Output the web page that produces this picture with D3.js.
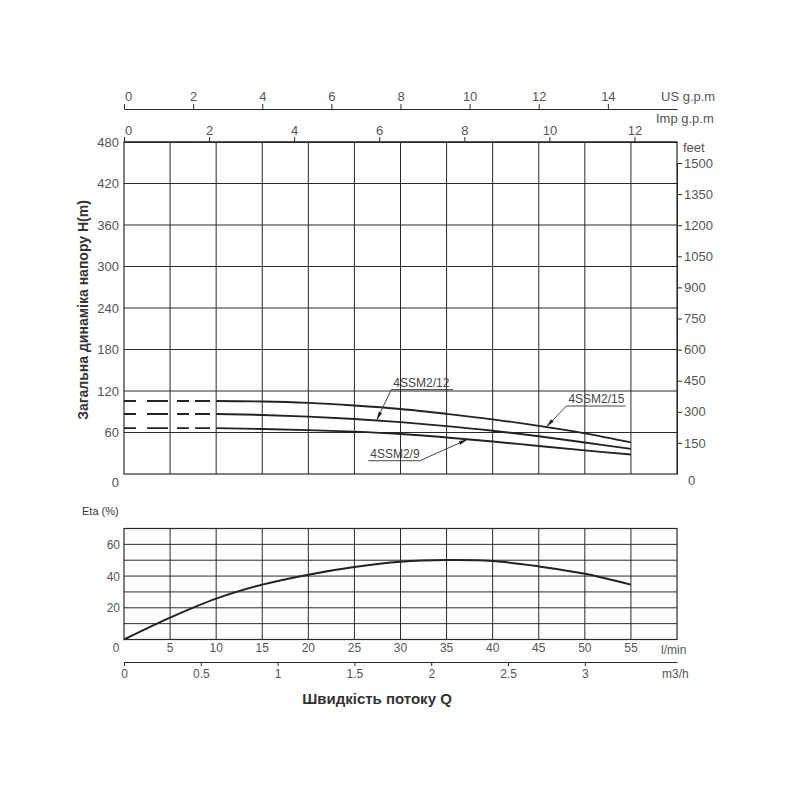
<!DOCTYPE html>
<html><head><meta charset="utf-8">
<script src="https://cdn.jsdelivr.net/npm/d3@7"></script>
<style>
body{margin:0;background:#fff}
text{font-family:"Liberation Sans",Arial,sans-serif}
</style>
</head><body>
<svg id="c" width="800" height="800"></svg>
<script>
// ---------- data ----------
const flowLpm = [10,15,20,25,30,35,40,45,50,55];
const head15  = [105.5,104.8,102.8,99,94,87,79,69.6,58.8,45.7];
const head12  = [86.7,85.4,83,79.6,75,69.2,62.5,54.5,45.5,36.3];
const head9   = [66.3,65,63.4,61.2,57.8,52.8,47,40.5,34.2,28.1];
const seriesNames = ["4SSM2/15","4SSM2/12","4SSM2/9"];

const etaFlow   = [0,5,10,15,20,25,30,35,40,45,50,55];
const etaValues = [0,13.8,25.8,34.6,40.9,45.7,49,50.1,49.5,46.1,41.5,34.6];

const headTicks = [60,120,180,240,300,360,420,480];
const feetTicks = [150,300,450,600,750,900,1050,1200,1350,1500];
const usTicks   = [0,2,4,6,8,10,12,14];
const impTicks  = [0,2,4,6,8,10,12];
const lpmTicks  = [0,5,10,15,20,25,30,35,40,45,50,55];
const m3hTicks  = [0,0.5,1,1.5,2,2.5,3];
const etaTicks  = [20,40,60];
const etaGrid   = [10,20,30,40,50,60];

// annotation anchors in data units (l/min, m)
const labelAnchors = [
  {series:1, q0:29.0, q1:35.7, h:122,  tipQ:27.4, fromEnd:false},
  {series:0, q0:48.0, q1:54.4, h:98.3, tipQ:45.8, fromEnd:false},
  {series:2, q0:26.5, q1:32.1, h:19.2, tipQ:37.3, fromEnd:true}
];

// ---------- scales ----------
const x    = d3.scaleLinear().domain([0,60]).range([124,677]);
const xUS  = d3.scaleLinear().domain([0,16]).range([124,677]);
const xImp = d3.scaleLinear().domain([0,13]).range([124,677]);
const xM3  = d3.scaleLinear().domain([0,3.6]).range([124,677]);
const yH   = d3.scaleLinear().domain([0,480]).range([474,142]);
const yFt  = d3.scaleLinear().domain([0,1500]).range([474,163]);
const yEta = d3.scaleLinear().domain([0,70]).range([639.5,528.5]);

const svg = d3.select("#c");
const ink = "#2a2a2a", txt = "#555";
const fmt = d => String(d);

// ---------- main chart grid ----------
const g = svg.append("g");
g.selectAll("line.hg").data(headTicks).join("line")
  .attr("x1",x(0)).attr("x2",x(60)).attr("y1",d=>yH(d)).attr("y2",d=>yH(d))
  .attr("stroke",ink).attr("stroke-width",1);
g.selectAll("line.vg").data(lpmTicks.slice(1)).join("line")
  .attr("x1",d=>x(d)).attr("x2",d=>x(d)).attr("y1",yH(0)).attr("y2",yH(480))
  .attr("stroke",ink).attr("stroke-width",1);
g.append("rect").attr("x",x(0)).attr("y",yH(480)).attr("width",x(60)-x(0)).attr("height",yH(0)-yH(480))
  .attr("fill","none").attr("stroke",ink).attr("stroke-width",1.2);

// left labels
g.selectAll("text.yl").data(headTicks).join("text")
  .attr("x",119).attr("y",d=>yH(d)+4.5).attr("text-anchor","end")
  .attr("font-size",13).attr("fill",txt).text(d=>d);
g.append("text").attr("x",119).attr("y",yH(0)+13).attr("text-anchor","end")
  .attr("font-size",13).attr("fill",txt).text("0");

// right feet axis
const ftAxis = svg.append("g").attr("transform",`translate(${x(60)},0)`)
  .call(d3.axisRight(yFt).tickValues(feetTicks).tickFormat(fmt).tickSize(5).tickPadding(2).tickSizeOuter(0));
ftAxis.select(".domain").attr("stroke",ink);
ftAxis.selectAll(".tick line").attr("stroke",ink);
ftAxis.selectAll("text").attr("font-size",13).attr("fill",txt).attr("font-family","Liberation Sans, Arial, sans-serif");
svg.append("text").attr("x",688).attr("y",yH(0)+11).attr("font-size",13).attr("fill",txt).text("0");
svg.append("text").attr("x",683).attr("y",152).attr("font-size",13).attr("fill",txt).text("feet");

// Imp g.p.m axis (top of chart)
const impAxis = svg.append("g").attr("transform",`translate(0,${yH(480)})`)
  .call(d3.axisTop(xImp).tickValues(impTicks).tickFormat(fmt).tickSize(5).tickPadding(2).tickSizeOuter(0));
impAxis.select(".domain").attr("stroke",ink);
impAxis.selectAll(".tick line").attr("stroke",ink);
impAxis.selectAll("text").attr("font-size",13).attr("fill",txt).attr("font-family","Liberation Sans, Arial, sans-serif");
impAxis.selectAll(".tick").filter(d=>d===0).select("text").attr("dx",4);
svg.append("text").attr("x",656).attr("y",123).attr("font-size",13).attr("fill",txt).text("Imp g.p.m");

// US g.p.m axis
const usAxis = svg.append("g").attr("transform","translate(0,109)")
  .call(d3.axisTop(xUS).tickValues(usTicks).tickFormat(fmt).tickSize(5).tickPadding(3).tickSizeOuter(0));
usAxis.select(".domain").attr("stroke",ink).attr("stroke-width",1.2);
usAxis.selectAll(".tick line").attr("stroke",ink);
usAxis.selectAll("text").attr("font-size",13).attr("fill",txt).attr("font-family","Liberation Sans, Arial, sans-serif");
usAxis.selectAll(".tick").filter(d=>d===0).select("text").attr("dx",4);
svg.append("text").attr("x",661).attr("y",101).attr("font-size",13).attr("fill",txt).text("US g.p.m");

// y title
svg.append("text").attr("transform",`translate(88,${(yH(0)+yH(480))/2+2}) rotate(-90)`)
  .attr("text-anchor","middle").attr("font-size",14).attr("font-weight","bold").attr("fill","#333")
  .text("Загальна динаміка напору H(m)");

// ---------- head curves ----------
const heads = [head15, head12, head9];
const line = d3.line().x(d=>x(d[0])).y(d=>yH(d[1])).curve(d3.curveCatmullRom.alpha(0.5));
heads.forEach(hs=>{
  const pts = flowLpm.map((q,i)=>[q,hs[i]]);
  svg.append("path").attr("d",line(pts)).attr("fill","none").attr("stroke","#222").attr("stroke-width",1.9);
  svg.append("line").attr("x1",x(0)).attr("x2",x(flowLpm[0])).attr("y1",yH(hs[0])).attr("y2",yH(hs[0]))
    .attr("stroke","#222").attr("stroke-width",1.9).attr("stroke-dasharray","12,11,21,9,12,6,15,7");
});

// annotations
function headAt(hs,q){
  const i = Math.min(d3.bisectRight(flowLpm,q)-1, flowLpm.length-2);
  const t = (q-flowLpm[i])/(flowLpm[i+1]-flowLpm[i]);
  return hs[i]+(hs[i+1]-hs[i])*t;
}
labelAnchors.forEach(a=>{
  const y0 = yH(a.h), xa = x(a.q0), xb = x(a.q1);
  svg.append("line").attr("x1",xa).attr("x2",xb).attr("y1",y0).attr("y2",y0).attr("stroke","#444").attr("stroke-width",1);
  svg.append("text").attr("x",xa+2).attr("y",y0-3).attr("font-size",12).attr("fill","#444").text(seriesNames[a.series]);
  const sx = a.fromEnd ? xb : xa;
  const tx = x(a.tipQ), ty = yH(headAt(heads[a.series],a.tipQ));
  svg.append("line").attr("x1",sx).attr("y1",y0).attr("x2",tx).attr("y2",ty).attr("stroke","#444").attr("stroke-width",1);
  const dx = tx-sx, dy = ty-y0, L = Math.hypot(dx,dy), ux = dx/L, uy = dy/L;
  const bx = tx-ux*9, by = ty-uy*9;
  svg.append("path").attr("d",`M${tx},${ty}L${bx-uy*1.8},${by+ux*1.8}L${bx+uy*1.8},${by-ux*1.8}Z`).attr("fill","#222");
});

// ---------- efficiency chart ----------
const e = svg.append("g");
e.selectAll("line.eh").data(etaGrid).join("line")
  .attr("x1",x(0)).attr("x2",x(60)).attr("y1",d=>yEta(d)).attr("y2",d=>yEta(d))
  .attr("stroke",ink).attr("stroke-width",1);
e.selectAll("line.ev").data(lpmTicks.slice(1)).join("line")
  .attr("x1",d=>x(d)).attr("x2",d=>x(d)).attr("y1",yEta(0)).attr("y2",yEta(70))
  .attr("stroke",ink).attr("stroke-width",1);
e.append("rect").attr("x",x(0)).attr("y",yEta(70)).attr("width",x(60)-x(0)).attr("height",yEta(0)-yEta(70))
  .attr("fill","none").attr("stroke",ink).attr("stroke-width",1.2);
e.selectAll("text.el").data(etaTicks).join("text")
  .attr("x",120).attr("y",d=>yEta(d)+4.5).attr("text-anchor","end")
  .attr("font-size",12).attr("fill",txt).text(d=>d);
svg.append("text").attr("x",82).attr("y",515).attr("font-size",11).attr("fill","#333").text("Eta (%)");

const etaLine = d3.line().x(d=>x(d[0])).y(d=>yEta(d[1])).curve(d3.curveCatmullRom.alpha(0.5));
svg.append("path").attr("d",etaLine(etaFlow.map((q,i)=>[q,etaValues[i]])))
  .attr("fill","none").attr("stroke","#222").attr("stroke-width",2);

// l/min labels
svg.selectAll("text.lpm").data(lpmTicks).join("text")
  .attr("x",d=>d===0?116:x(d)).attr("y",651.5).attr("text-anchor","middle")
  .attr("font-size",12).attr("fill",txt).text(d=>d);
svg.append("text").attr("x",661).attr("y",654).attr("font-size",12).attr("fill",txt).text("l/min");

// m3/h axis
const m3Axis = svg.append("g").attr("transform","translate(0,662)")
  .call(d3.axisBottom(xM3).tickValues(m3hTicks).tickFormat(fmt).tickSize(4).tickPadding(3).tickSizeOuter(0));
m3Axis.select(".domain").attr("stroke",ink).attr("stroke-width",1.2);
m3Axis.selectAll(".tick line").attr("stroke",ink);
m3Axis.selectAll("text").attr("font-size",12).attr("fill",txt).attr("font-family","Liberation Sans, Arial, sans-serif");
svg.append("text").attr("x",662).attr("y",678).attr("font-size",12).attr("fill",txt).text("m3/h");

svg.append("text").attr("x",377).attr("y",704).attr("text-anchor","middle")
  .attr("font-size",15).attr("font-weight","bold").attr("fill","#333").text("Швидкість потоку Q");
</script>
</body></html>
